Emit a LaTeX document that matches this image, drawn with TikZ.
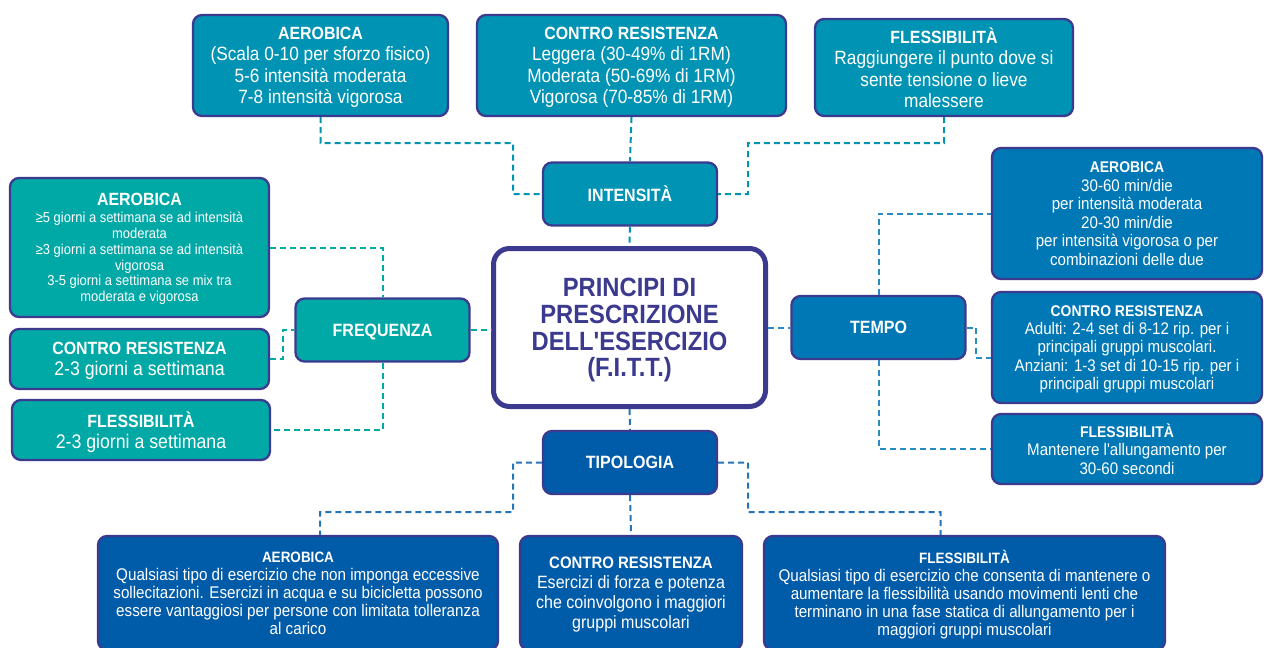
\documentclass[tikz,border=0pt]{standalone}
\usepackage{fontspec}
\setmainfont{Liberation Sans}[FakeStretch=0.9, Ligatures=TeXOff]
\usetikzlibrary{positioning}
\definecolor{navy}{HTML}{3B3A8F}
\definecolor{intblue}{HTML}{0093B4}
\definecolor{freqteal}{HTML}{00A8A6}
\definecolor{tempoblue}{HTML}{0078B6}
\definecolor{tipoblue}{HTML}{005BA9}
\newcommand\hd[2]{{\fontsize{#1}{20}\selectfont\bfseries #2}}

\begin{document}
\begin{tikzpicture}[
    x=1pt, y=-1pt,
    box/.style={draw=navy, line width=2.3pt, rounded corners=9pt, text=white,
    align=center, inner sep=0pt, text depth=0pt},
    hub/.style={box, minimum width=174pt, minimum height=63pt,
    font=\fontsize{17.8}{20}\selectfont\bfseries},
    main/.style={draw=navy, line width=5pt, rounded corners=16pt, fill=white,
    text=navy, align=center, minimum width=272pt, minimum height=158pt,
    text depth=0pt, font=\fontsize{26.4}{26.7}\selectfont\bfseries},
    link/.style={dashed, dash pattern=on 6pt off 4pt, line width=2pt},
    ]
    \clip (0,0) rectangle (1264,648);

    \node[main] (fitt) at (629.5,327.5)
      {PRINCIPI DI\\PRESCRIZIONE\\DELL'ESERCIZIO\\(F.I.T.T.)};

    \node[hub, fill=intblue]   (intens) at (630,194)   {INTENSITÀ};
    \node[hub, fill=freqteal]  (freq)   at (382.5,330) {FREQUENZA};
    \node[hub, fill=tempoblue] (tempo)  at (878.5,327.5) {TEMPO};
    \node[hub, fill=tipoblue]  (tipo)   at (630,462.5) {TIPOLOGIA};

    \node[box, fill=intblue, minimum width=255pt, minimum height=101pt,
      font=\fontsize{19.2}{21.5}\selectfont] (aeroI) at (320.5,65.5)
      {\hd{17.7}{AEROBICA}\\(Scala 0-10 per sforzo fisico)\\5-6 intensità moderata\\7-8 intensità vigorosa};
    \node[box, fill=intblue, minimum width=309pt, minimum height=101pt,
      font=\fontsize{19.2}{21.5}\selectfont] (contI) at (631.5,65.5)
      {\hd{17.7}{CONTRO RESISTENZA}\\Leggera (30-49\% di 1RM)\\Moderata (50-69\% di 1RM)\\Vigorosa (70-85\% di 1RM)};
    \node[box, fill=intblue, minimum width=258pt, minimum height=97pt,
      font=\fontsize{19.2}{21.5}\selectfont] (flesI) at (944,67.5)
      {\hd{17.7}{FLESSIBILITÀ}\\Raggiungere il punto dove si\\sente tensione o lieve\\malessere};

    \node[box, fill=freqteal, minimum width=259pt, minimum height=139pt,
      font=\fontsize{14.4}{15.9}\selectfont] (aeroF) at (139.5,247.5)
      {\hd{17.7}{AEROBICA}\\[1pt]≥5 giorni a settimana se ad intensità\\moderata\\≥3 giorni a settimana se ad intensità\\vigorosa\\3-5 giorni a settimana se mix tra\\moderata e vigorosa};
    \node[box, fill=freqteal, minimum width=259pt, minimum height=60pt,
      font=\fontsize{19.7}{21.5}\selectfont] (contF) at (139.5,359)
      {\hd{17.7}{CONTRO RESISTENZA}\\2-3 giorni a settimana};
    \node[box, fill=freqteal, minimum width=258pt, minimum height=60pt,
      font=\fontsize{19.7}{21.5}\selectfont] (flesF) at (141,430)
      {\hd{17.7}{FLESSIBILITÀ}\\2-3 giorni a settimana};

    \node[box, fill=tempoblue, minimum width=270pt, minimum height=131pt,
      font=\fontsize{16.8}{18.5}\selectfont] (aeroT) at (1127,213.5)
      {\hd{15.5}{AEROBICA}\\30-60 min/die\\per intensità moderata\\20-30 min/die\\per intensità vigorosa o per\\combinazioni delle due};
    \node[box, fill=tempoblue, minimum width=270pt, minimum height=111pt,
      font=\fontsize{16.8}{18.4}\selectfont] (contT) at (1127,347.5)
      {\hd{15.5}{CONTRO RESISTENZA}\\Adulti: 2-4 set di 8-12 rip. per i\\principali gruppi muscolari.\\Anziani: 1-3 set di 10-15 rip. per i\\principali gruppi muscolari};
    \node[box, fill=tempoblue, minimum width=270pt, minimum height=70pt,
      font=\fontsize{16.8}{18.5}\selectfont] (flesT) at (1127,449)
      {\hd{15.5}{FLESSIBILITÀ}\\Mantenere l'allungamento per\\30-60 secondi};

    \node[box, fill=tipoblue, minimum width=400pt, minimum height=114pt,
      font=\fontsize{16.9}{18}\selectfont] (aeroB) at (298,593)
      {\hd{15}{AEROBICA}\\Qualsiasi tipo di esercizio che non imponga eccessive\\sollecitazioni. Esercizi in acqua e su bicicletta possono\\essere vantaggiosi per persone con limitata tolleranza\\al carico};
    \node[box, fill=tipoblue, minimum width=222pt, minimum height=114pt,
      font=\fontsize{17.8}{20}\selectfont] (contB) at (631,593)
      {\hd{16.6}{CONTRO RESISTENZA}\\Esercizi di forza e potenza\\che coinvolgono i maggiori\\gruppi muscolari};
    \node[box, fill=tipoblue, minimum width=401pt, minimum height=114pt,
      font=\fontsize{16.9}{18}\selectfont] (flesB) at (964.5,593)
      {\hd{15}{FLESSIBILITÀ}\\Qualsiasi tipo di esercizio che consenta di mantenere o\\aumentare la flessibilità usando movimenti lenti che\\terminano in una fase statica di allungamento per i\\maggiori gruppi muscolari};

    \coordinate (tbend) at (976,358);

    \draw[link, intblue]
    (aeroI.south) |- (513,143) |- (intens.west)
    (contI.south) -- (intens.north)
    (flesI.south) |- (748,143) |- (intens.east)
    (intens.south) -- (fitt.north);

    \draw[link, freqteal]
    (aeroF.east) -| (freq.north)
    (contF.east) -| (283,330) -- (freq.west)
    (freq.south) |- (flesF.east)
    (freq.east) -- (freq.east -| fitt.west);

    \draw[link, tempoblue!85!white]
    (fitt.east) -- (tempo.west)
    (tempo.north) |- (aeroT.west)
    (tempo.east) -| (tbend) -- (tbend -| contT.west)
    (tempo.south) |- (flesT.west);

    \draw[link, tipoblue!85!white]
    (fitt.south) -- (tipo.north)
    (tipo.west) -| (513,512) -| ([xshift=22pt]aeroB.north)
    (tipo.south) -- (contB.north)
    (tipo.east) -| (748,512) -| ([xshift=-24pt]flesB.north);
  \end{tikzpicture}
\end{document}
